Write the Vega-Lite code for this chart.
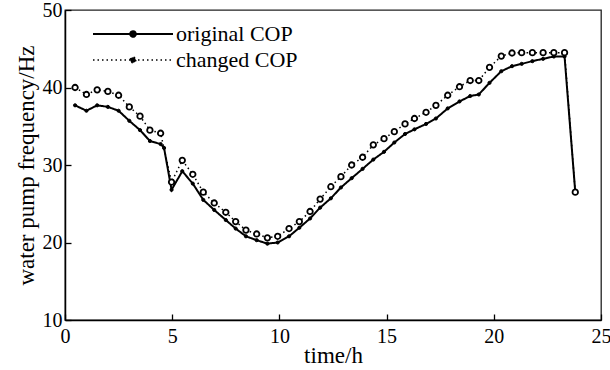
{
  "$schema": "https://vega.github.io/schema/vega-lite/v6.json",
  "width": 536,
  "height": 310,
  "autosize": {"type": "none"},
  "padding": {"left": 65, "top": 10, "right": 9, "bottom": 50},
  "config": {
    "font": "Liberation Serif",
    "view": {"stroke": "#222", "strokeWidth": 1.3},
    "axis": {
      "domainColor": "black", "domainWidth": 1.5,
      "tickColor": "black", "tickWidth": 1.3, "tickSize": -6,
      "labelFont": "Liberation Serif", "labelFontSize": 20, "labelColor": "black",
      "titleFont": "Liberation Serif", "titleFontSize": 23, "titleFontWeight": "normal", "titleColor": "black",
      "grid": false
    }
  },
  "data": {
    "values": [
      {"t": 0.47, "f": 37.7, "series": "original COP"},
      {"t": 1.0, "f": 37.0, "series": "original COP"},
      {"t": 1.5, "f": 37.7, "series": "original COP"},
      {"t": 2.0, "f": 37.5, "series": "original COP"},
      {"t": 2.5, "f": 37.0, "series": "original COP"},
      {"t": 3.0, "f": 35.7, "series": "original COP"},
      {"t": 3.5, "f": 34.5, "series": "original COP"},
      {"t": 3.96, "f": 33.1, "series": "original COP"},
      {"t": 4.46, "f": 32.7, "series": "original COP"},
      {"t": 4.62, "f": 32.2, "series": "original COP"},
      {"t": 4.97, "f": 26.8, "series": "original COP"},
      {"t": 5.47, "f": 29.2, "series": "original COP"},
      {"t": 5.96, "f": 27.6, "series": "original COP"},
      {"t": 6.45, "f": 25.5, "series": "original COP"},
      {"t": 6.96, "f": 24.2, "series": "original COP"},
      {"t": 7.5, "f": 22.9, "series": "original COP"},
      {"t": 7.96, "f": 21.8, "series": "original COP"},
      {"t": 8.44, "f": 20.8, "series": "original COP"},
      {"t": 8.94, "f": 20.3, "series": "original COP"},
      {"t": 9.44, "f": 19.85, "series": "original COP"},
      {"t": 9.92, "f": 20.0, "series": "original COP"},
      {"t": 10.45, "f": 20.8, "series": "original COP"},
      {"t": 10.93, "f": 21.9, "series": "original COP"},
      {"t": 11.43, "f": 23.1, "series": "original COP"},
      {"t": 11.9, "f": 24.5, "series": "original COP"},
      {"t": 12.4, "f": 25.7, "series": "original COP"},
      {"t": 12.87, "f": 27.1, "series": "original COP"},
      {"t": 13.37, "f": 28.3, "series": "original COP"},
      {"t": 13.88, "f": 29.5, "series": "original COP"},
      {"t": 14.38, "f": 30.7, "series": "original COP"},
      {"t": 14.88, "f": 31.7, "series": "original COP"},
      {"t": 15.36, "f": 32.9, "series": "original COP"},
      {"t": 15.86, "f": 34.0, "series": "original COP"},
      {"t": 16.3, "f": 34.6, "series": "original COP"},
      {"t": 16.84, "f": 35.3, "series": "original COP"},
      {"t": 17.3, "f": 36.0, "series": "original COP"},
      {"t": 17.85, "f": 37.3, "series": "original COP"},
      {"t": 18.4, "f": 38.2, "series": "original COP"},
      {"t": 18.9, "f": 38.9, "series": "original COP"},
      {"t": 19.3, "f": 39.1, "series": "original COP"},
      {"t": 19.8, "f": 40.6, "series": "original COP"},
      {"t": 20.35, "f": 42.1, "series": "original COP"},
      {"t": 20.85, "f": 42.75, "series": "original COP"},
      {"t": 21.3, "f": 43.05, "series": "original COP"},
      {"t": 21.8, "f": 43.4, "series": "original COP"},
      {"t": 22.3, "f": 43.7, "series": "original COP"},
      {"t": 22.8, "f": 44.0, "series": "original COP"},
      {"t": 23.3, "f": 44.0, "series": "original COP"},
      {"t": 23.8, "f": 26.5, "series": "original COP"},
      {"t": 0.47, "f": 40.0, "series": "changed COP"},
      {"t": 1.0, "f": 39.1, "series": "changed COP"},
      {"t": 1.5, "f": 39.7, "series": "changed COP"},
      {"t": 2.0, "f": 39.5, "series": "changed COP"},
      {"t": 2.5, "f": 39.0, "series": "changed COP"},
      {"t": 3.0, "f": 37.5, "series": "changed COP"},
      {"t": 3.5, "f": 36.3, "series": "changed COP"},
      {"t": 3.96, "f": 34.5, "series": "changed COP"},
      {"t": 4.46, "f": 34.1, "series": "changed COP"},
      {"t": 4.97, "f": 27.8, "series": "changed COP"},
      {"t": 5.47, "f": 30.6, "series": "changed COP"},
      {"t": 5.96, "f": 28.8, "series": "changed COP"},
      {"t": 6.45, "f": 26.5, "series": "changed COP"},
      {"t": 6.96, "f": 25.1, "series": "changed COP"},
      {"t": 7.5, "f": 23.9, "series": "changed COP"},
      {"t": 7.96, "f": 22.7, "series": "changed COP"},
      {"t": 8.44, "f": 21.6, "series": "changed COP"},
      {"t": 8.94, "f": 21.1, "series": "changed COP"},
      {"t": 9.44, "f": 20.6, "series": "changed COP"},
      {"t": 9.92, "f": 20.8, "series": "changed COP"},
      {"t": 10.45, "f": 21.8, "series": "changed COP"},
      {"t": 10.93, "f": 22.7, "series": "changed COP"},
      {"t": 11.43, "f": 24.0, "series": "changed COP"},
      {"t": 11.9, "f": 25.6, "series": "changed COP"},
      {"t": 12.4, "f": 27.2, "series": "changed COP"},
      {"t": 12.87, "f": 28.5, "series": "changed COP"},
      {"t": 13.37, "f": 30.0, "series": "changed COP"},
      {"t": 13.88, "f": 31.0, "series": "changed COP"},
      {"t": 14.38, "f": 32.6, "series": "changed COP"},
      {"t": 14.88, "f": 33.4, "series": "changed COP"},
      {"t": 15.36, "f": 34.3, "series": "changed COP"},
      {"t": 15.86, "f": 35.3, "series": "changed COP"},
      {"t": 16.3, "f": 36.0, "series": "changed COP"},
      {"t": 16.84, "f": 36.8, "series": "changed COP"},
      {"t": 17.3, "f": 37.7, "series": "changed COP"},
      {"t": 17.85, "f": 39.0, "series": "changed COP"},
      {"t": 18.4, "f": 40.1, "series": "changed COP"},
      {"t": 18.9, "f": 40.9, "series": "changed COP"},
      {"t": 19.3, "f": 40.9, "series": "changed COP"},
      {"t": 19.8, "f": 42.6, "series": "changed COP"},
      {"t": 20.35, "f": 44.05, "series": "changed COP"},
      {"t": 20.85, "f": 44.45, "series": "changed COP"},
      {"t": 21.3, "f": 44.5, "series": "changed COP"},
      {"t": 21.8, "f": 44.5, "series": "changed COP"},
      {"t": 22.3, "f": 44.5, "series": "changed COP"},
      {"t": 22.8, "f": 44.5, "series": "changed COP"},
      {"t": 23.3, "f": 44.5, "series": "changed COP"},
      {"t": 23.8, "f": 26.5, "series": "changed COP"}
    ]
  },
  "encoding": {
    "x": {"field": "t", "type": "quantitative", "scale": {"domain": [0, 25], "nice": false},
      "axis": {"title": "time/h", "values": [0, 5, 10, 15, 20, 25], "labelPadding": 12, "titlePadding": -2, "labelFlush": false}},
    "y": {"field": "f", "type": "quantitative", "scale": {"domain": [10, 50], "nice": false},
      "axis": {"title": "water pump frequency/Hz", "values": [10, 20, 30, 40, 50], "labelPadding": 9, "titlePadding": 4, "labelFlush": false}}
  },
  "layer": [
    {
      "mark": {"type": "line", "color": "black"},
      "encoding": {
        "strokeDash": {"field": "series", "type": "nominal",
          "scale": {"domain": ["original COP", "changed COP"], "range": [[1, 0], [1.5, 3]]},
          "legend": {
            "title": null, "orient": "none", "legendX": 87, "legendY": 13,
            "symbolType": "M-7,0H1M-2.72,0A0.28,0.28,0,1,1,-3.28,0A0.28,0.28,0,1,1,-2.72,0",
            "symbolSize": 400, "symbolStrokeColor": "black", "symbolFillColor": "black",
            "symbolStrokeWidth": 2, "labelFontSize": 22, "labelColor": "black",
            "labelFont": "Liberation Serif", "labelOffset": 2, "rowPadding": 4, "padding": 0
          }},
        "strokeWidth": {"field": "series", "type": "nominal",
          "scale": {"domain": ["original COP", "changed COP"], "range": [2, 1.5]}, "legend": null}
      }
    },
    {
      "transform": [{"filter": "datum.series === 'original COP'"}],
      "mark": {"type": "point", "shape": "circle", "stroke": "black", "fill": "black", "filled": true, "size": 10, "strokeWidth": 1, "opacity": 1}
    },
    {
      "transform": [{"filter": "datum.series === 'changed COP'"}],
      "mark": {"type": "point", "shape": "circle", "stroke": "black", "fill": "white", "filled": true, "size": 30, "strokeWidth": 1.8, "opacity": 1}
    }
  ]
}
